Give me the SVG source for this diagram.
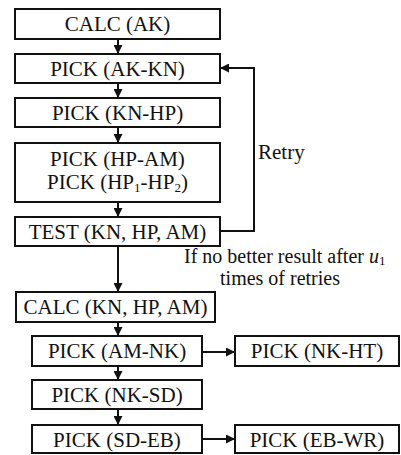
<svg xmlns="http://www.w3.org/2000/svg" width="401" height="455" viewBox="0 0 401 455">
<style>
.box{fill:#fff;stroke:#111;stroke-width:2}
text{font-family:'Liberation Serif','Tinos','Times New Roman','DejaVu Serif',serif;font-size:21px;fill:#111}
.t{text-anchor:middle}
.n{font-size:20px}
.c{fill:none;stroke:#111;stroke-width:2}
</style>
<defs>
<marker id="ah" viewBox="0 0 10 10" refX="10" refY="5" markerWidth="9" markerHeight="9" orient="auto" markerUnits="userSpaceOnUse">
<path d="M0,0 L10,5 L0,10 z" fill="#111"/>
</marker>
</defs>
<rect width="401" height="455" fill="#fff"/>
<g id="connectors">
<line class="c" x1="118" y1="39" x2="118" y2="54" marker-end="url(#ah)"/>
<line class="c" x1="118" y1="83" x2="118" y2="98" marker-end="url(#ah)"/>
<line class="c" x1="118" y1="127" x2="118" y2="143" marker-end="url(#ah)"/>
<line class="c" x1="118" y1="202" x2="118" y2="217" marker-end="url(#ah)"/>
<line class="c" x1="118" y1="246" x2="118" y2="292" marker-end="url(#ah)"/>
<line class="c" x1="118" y1="322" x2="118" y2="336" marker-end="url(#ah)"/>
<line class="c" x1="118" y1="366" x2="118" y2="380" marker-end="url(#ah)"/>
<line class="c" x1="118" y1="409" x2="118" y2="425" marker-end="url(#ah)"/>
<line class="c" x1="202" y1="352" x2="235" y2="352" marker-end="url(#ah)"/>
<line class="c" x1="202" y1="439" x2="235" y2="439" marker-end="url(#ah)"/>
<polyline class="c" points="220,231 254,231 254,68 220,68" marker-end="url(#ah)"/>
<text x="258" y="159">Retry</text>
<text class="n" x="184" y="263">If no better result after <tspan font-style="italic">u</tspan><tspan font-size="13" dy="2">1</tspan></text>
<text class="t n" x="280" y="285">times of retries</text>
</g>
<g id="calc_ak"><rect class="box" x="15" y="9" width="205" height="30"/><text class="t" x="117.5" y="31">CALC (AK)</text></g>
<g id="pick_ak_kn"><rect class="box" x="15" y="54" width="205" height="29"/><text class="t" x="117.5" y="76">PICK (AK-KN)</text></g>
<g id="pick_kn_hp"><rect class="box" x="15" y="98" width="205" height="29"/><text class="t" x="117.5" y="120">PICK (KN-HP)</text></g>
<g id="pick_hp_am"><rect class="box" x="15" y="143" width="205" height="59"/><text class="t" x="117.5" y="166">PICK (HP-AM)</text><text class="t" x="117.5" y="189">PICK (HP<tspan font-size="13" dy="3">1</tspan><tspan dy="-3">-HP</tspan><tspan font-size="13" dy="3">2</tspan><tspan dy="-3">)</tspan></text></g>
<g id="test"><rect class="box" x="15" y="217" width="205" height="29"/><text class="t" x="117.5" y="239">TEST (KN, HP, AM)</text></g>
<g id="calc_kn_hp_am"><rect class="box" x="16" y="292" width="199" height="30"/><text class="t" x="115.5" y="314">CALC (KN, HP, AM)</text></g>
<g id="pick_am_nk"><rect class="box" x="32" y="336" width="170" height="30"/><text class="t" x="117" y="358">PICK (AM-NK)</text></g>
<g id="pick_nk_ht"><rect class="box" x="235" y="336" width="164" height="30"/><text class="t" x="317" y="358">PICK (NK-HT)</text></g>
<g id="pick_nk_sd"><rect class="box" x="32" y="380" width="170" height="29"/><text class="t" x="117" y="402">PICK (NK-SD)</text></g>
<g id="pick_sd_eb"><rect class="box" x="32" y="425" width="170" height="28"/><text class="t" x="117" y="447">PICK (SD-EB)</text></g>
<g id="pick_eb_wr"><rect class="box" x="235" y="425" width="164" height="28"/><text class="t" x="317" y="447">PICK (EB-WR)</text></g>
</svg>
